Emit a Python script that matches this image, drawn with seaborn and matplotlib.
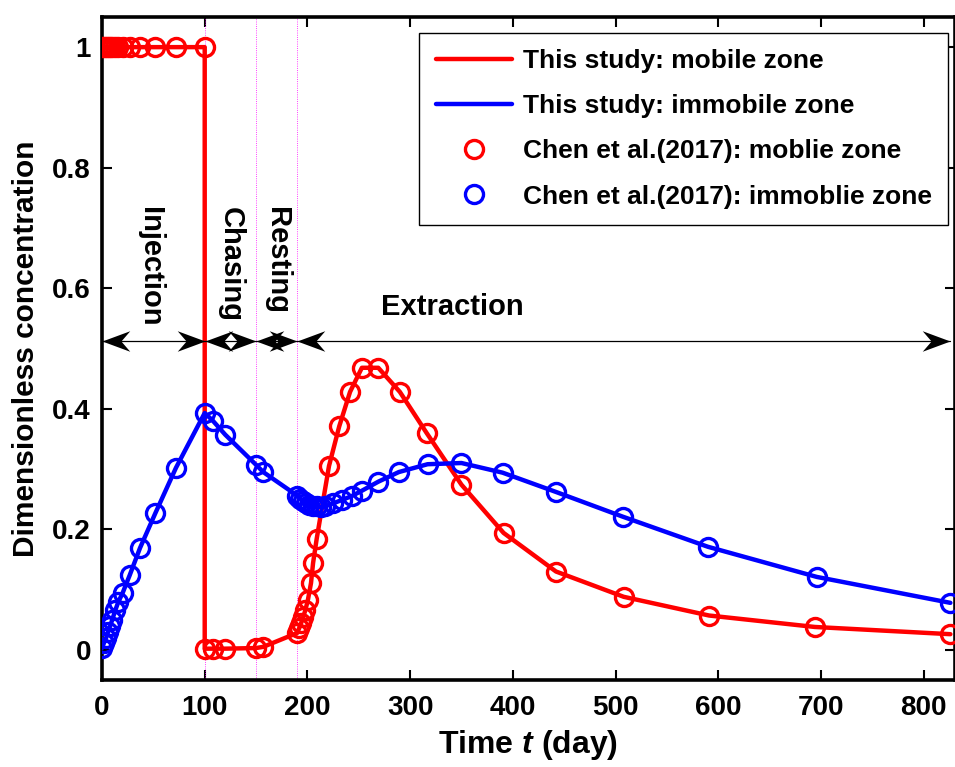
import matplotlib
matplotlib.use("Agg")
import matplotlib.pyplot as plt
from matplotlib import font_manager
from matplotlib.path import Path
import pandas as pd
import seaborn as sns

# ---- data -----------------------------------------------------------------
# Mobile-zone concentration (model curve and Chen et al. points share times, day)
t_mobile = [0, 2, 4, 6, 8, 10, 13, 16, 20, 27, 37, 52, 72, 100,
            100, 108, 120, 150, 157,
            190, 192, 194, 196, 198, 200.5, 203.5, 205.5, 209, 221, 231, 241.5,
            253, 269, 290, 316, 350, 391, 442, 508, 591, 694, 826]
c_mobile = [1, 1, 1, 1, 1, 1, 1, 1, 1, 1, 1, 1, 1, 1,
            0.002, 0.002, 0.002, 0.003, 0.005,
            0.028, 0.036, 0.045, 0.055, 0.066, 0.083, 0.111, 0.144, 0.184, 0.305, 0.371, 0.428,
            0.468, 0.468, 0.428, 0.360, 0.274, 0.194, 0.130, 0.088, 0.057, 0.038, 0.026]

# Immobile-zone concentration
t_immobile = [0, 2, 4, 6, 8, 10, 13, 16, 20, 27, 37, 52, 72, 100,
              108, 120, 150, 157,
              190, 193, 196, 199, 202, 205, 209, 213, 217, 225, 234, 243,
              253, 269, 289, 317, 350, 390, 442, 507, 590, 696, 826]
c_immobile = [0.003, 0.012, 0.020, 0.030, 0.040, 0.050, 0.066, 0.080, 0.094, 0.124, 0.169, 0.227, 0.302, 0.393,
              0.380, 0.357, 0.307, 0.295,
              0.256, 0.251, 0.247, 0.244, 0.241, 0.239, 0.238, 0.237, 0.238, 0.243, 0.249, 0.255,
              0.264, 0.279, 0.295, 0.308, 0.310, 0.294, 0.262, 0.221, 0.171, 0.121, 0.078]

# Operation phases (day) and their names
phase_edges = [0, 100, 150, 190, 826]
phase_names = ["Injection", "Chasing", "Resting", "Extraction"]

x_ticks = [0, 100, 200, 300, 400, 500, 600, 700, 800]
y_ticks = [0, 0.2, 0.4, 0.6, 0.8, 1.0]
y_tick_labels = ["0", "0.2", "0.4", "0.6", "0.8", "1"]

labels = ["This study: mobile zone", "This study: immobile zone",
          "Chen et al.(2017): moblie zone", "Chen et al.(2017): immoblie zone"]

# ---- style ----------------------------------------------------------------
sns.set_theme(style="ticks")
installed = {f.name for f in font_manager.fontManager.ttflist}
main_font = "Liberation Sans Narrow" if "Liberation Sans Narrow" in installed else "Liberation Sans"
plt.rcParams["font.family"] = [main_font, "DejaVu Sans"]
plt.rcParams["font.weight"] = "bold"
plt.rcParams["axes.labelweight"] = "bold"
plt.rcParams["mathtext.fontset"] = "custom"
plt.rcParams["mathtext.it"] = f"{main_font}:style=italic:weight=bold"
plt.rcParams["mathtext.rm"] = f"{main_font}:weight=bold"
for key in ["text.color", "axes.labelcolor", "xtick.color", "ytick.color",
            "xtick.labelcolor", "ytick.labelcolor", "axes.edgecolor"]:
    plt.rcParams[key] = "black"

RED = (1.0, 0.0, 0.0)
BLUE = (0.0, 0.0, 1.0)

fig = plt.figure(figsize=(9.55, 7.67), dpi=100)
ax = fig.add_axes([102 / 955, 87 / 767, 853 / 955, 663 / 767])

df_m = pd.DataFrame({"t": t_mobile, "c": c_mobile})
df_i = pd.DataFrame({"t": t_immobile, "c": c_immobile})

# phase boundaries
for xb in phase_edges[1:-1]:
    ax.axvline(xb, color="magenta", lw=0.6, ls=":", zorder=1)

# model curves
sns.lineplot(data=df_m, x="t", y="c", ax=ax, sort=False, estimator=None,
             color=RED, lw=3.2, label=labels[0], zorder=3)
sns.lineplot(data=df_i, x="t", y="c", ax=ax, sort=False, estimator=None,
             color=BLUE, lw=3.2, label=labels[1], zorder=3)

# reference data points (hollow circles)
marker_kw = dict(sort=False, estimator=None, linestyle="none", marker="o",
                 markersize=13, markerfacecolor="none", markeredgewidth=2.4, zorder=4)
sns.lineplot(data=df_m, x="t", y="c", ax=ax, color=RED, markeredgecolor=RED,
             label=labels[2], **marker_kw)
sns.lineplot(data=df_i, x="t", y="c", ax=ax, color=BLUE, markeredgecolor=BLUE,
             label=labels[3], **marker_kw)

# double-headed phase arrows with notched heads
arrow_y = 0.512
head_l = Path([(0, 0), (1, 0.37), (0.68, 0), (1, -0.37), (0, 0)],
              [Path.MOVETO, Path.LINETO, Path.LINETO, Path.LINETO, Path.CLOSEPOLY])
head_r = Path([(0, 0), (-1, 0.37), (-0.68, 0), (-1, -0.37), (0, 0)],
              [Path.MOVETO, Path.LINETO, Path.LINETO, Path.LINETO, Path.CLOSEPOLY])
for a, b in zip(phase_edges[:-1], phase_edges[1:]):
    ax.plot([a, b], [arrow_y, arrow_y], color="black", lw=0.9, zorder=5, clip_on=False)
    ax.plot([a], [arrow_y], marker=head_l, markersize=40, color="black",
            markeredgewidth=0, zorder=5, clip_on=False)
    ax.plot([b], [arrow_y], marker=head_r, markersize=40, color="black",
            markeredgewidth=0, zorder=5, clip_on=False)

# phase names
txt_kw = dict(fontsize=21, fontweight="bold", color="black", zorder=6)
for name, a, b in zip(phase_names[:3], phase_edges[:3], phase_edges[1:4]):
    ax.text((a + b) / 2 - (3 if name == "Injection" else 0), 0.735, name,
            rotation=-90, ha="center", va="top", **txt_kw)
ax.text(341, 0.569, phase_names[3], ha="center", va="center", **txt_kw)

# axes
ax.set_xlim(0, 830.5)
ax.set_ylim(-0.05, 1.05)
ax.set_xticks(x_ticks)
ax.set_yticks(y_ticks)
ax.set_yticklabels(y_tick_labels)
ax.tick_params(direction="in", top=True, right=True, length=7, width=1.5,
               labelsize=20, color="black", labelcolor="black")
ax.tick_params(axis="x", pad=11)
ax.tick_params(axis="y", pad=8)
for lab in ax.get_xticklabels() + ax.get_yticklabels():
    lab.set_fontweight("bold")
for sp in ax.spines.values():
    sp.set_linewidth(2.6)
    sp.set_color("black")
ax.set_xlabel("Time $t$ (day)", fontsize=23, labelpad=5, color="black")
ax.set_ylabel("Dimensionless concentration", fontsize=21.5, labelpad=9, color="black")

leg = ax.legend(loc="upper right", bbox_to_anchor=(0.992, 0.976), borderaxespad=0,
                frameon=True, fancybox=False, framealpha=1, edgecolor="black",
                prop={"size": 19, "weight": "bold"}, handlelength=2.9,
                handletextpad=0.4, labelspacing=0.8, borderpad=0.62,
                labelcolor="black")
leg.get_frame().set_linewidth(1.0)
leg.set_zorder(10)

fig.savefig("out.png", dpi=100)
